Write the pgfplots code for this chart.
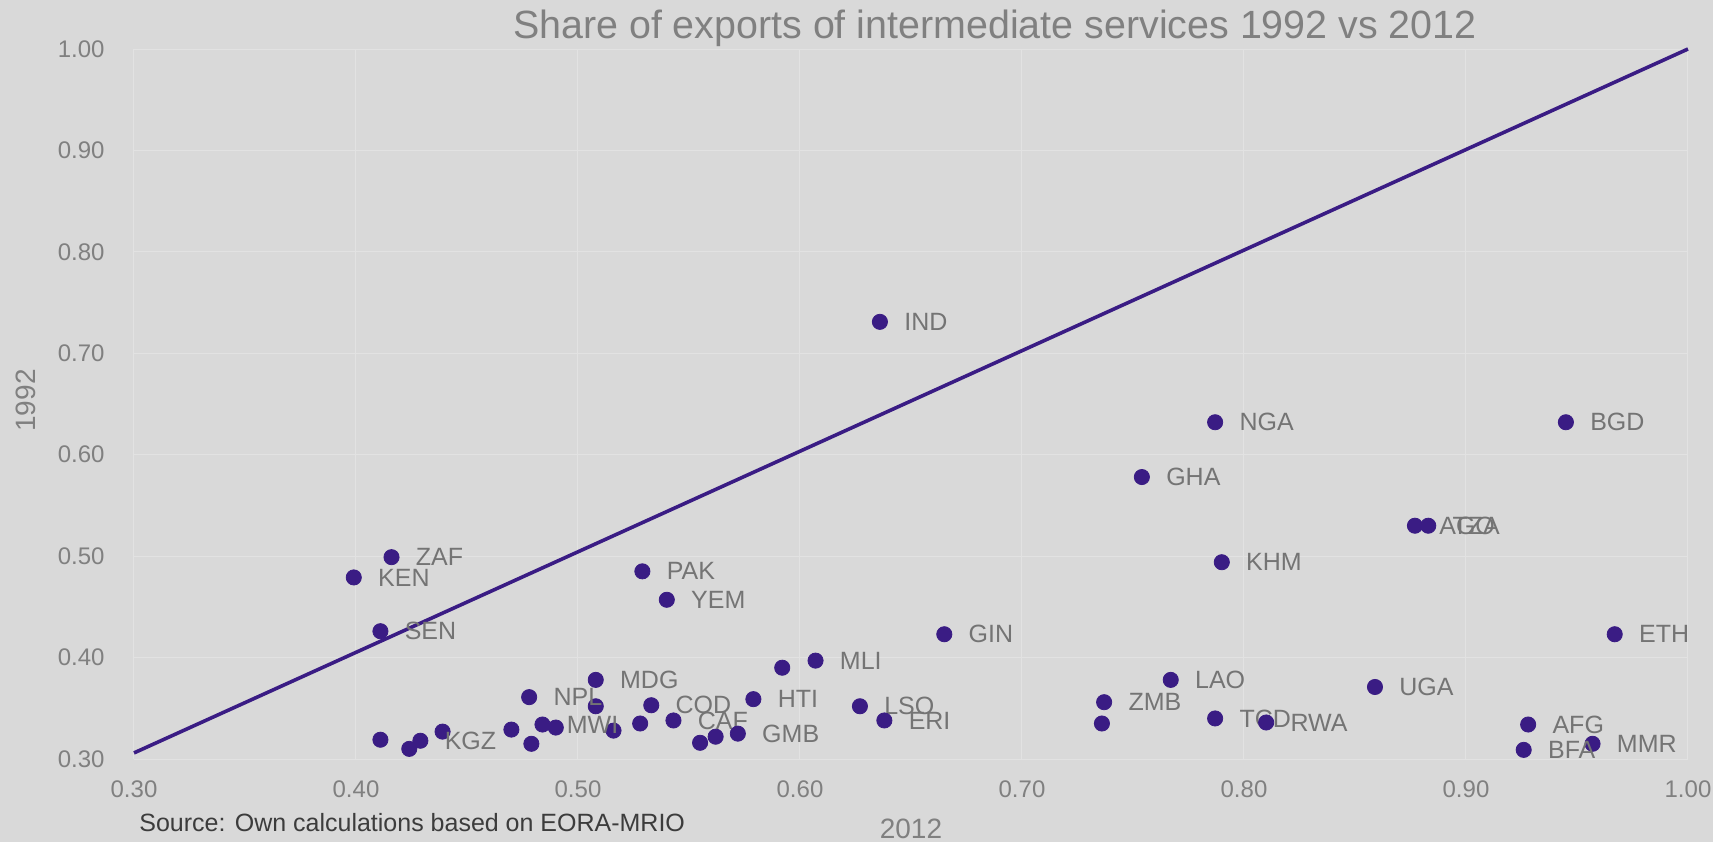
\documentclass[border=0pt]{standalone}
\usepackage{pgfplots}
\pgfplotsset{compat=1.18}
\usepackage{pgfplotstable}
\usepackage{fontspec}
\setmainfont{Liberation Sans}
\definecolor{bg}{HTML}{D9D9D9}
\definecolor{gridc}{HTML}{E2E2E2}
\definecolor{dotc}{HTML}{3A1C84}
\definecolor{txt}{HTML}{808080}
\definecolor{lbl}{HTML}{747474}
\definecolor{src}{HTML}{3C3C3C}

\pgfplotstableread{
x y label
0.416 0.499 ZAF
0.399 0.479 KEN
0.411 0.426 SEN
0.478 0.361 NPL
0.508 0.378 MDG
0.484 0.334 MWI
0.429 0.318 KGZ
0.533 0.353 COD
0.543 0.338 CAF
0.572 0.325 GMB
0.579 0.359 HTI
0.607 0.397 MLI
0.627 0.352 LSO
0.638 0.338 ERI
0.665 0.423 GIN
0.529 0.485 PAK
0.540 0.457 YEM
0.636 0.731 IND
0.787 0.632 NGA
0.945 0.632 BGD
0.754 0.578 GHA
0.877 0.530 AGO
0.883 0.530 TZA
0.790 0.494 KHM
0.967 0.423 ETH
0.767 0.378 LAO
0.737 0.356 ZMB
0.859 0.371 UGA
0.787 0.340 TCD
0.810 0.336 RWA
0.928 0.334 AFG
0.957 0.315 MMR
0.926 0.309 BFA
}\labeled

\pgfplotstableread{
x y
0.508 0.352
0.470 0.329
0.479 0.315
0.490 0.331
0.439 0.327
0.411 0.319
0.424 0.310
0.516 0.328
0.528 0.335
0.555 0.316
0.562 0.322
0.592 0.390
0.736 0.335
}\unlabeled

\begin{document}
\begin{tikzpicture}
\fill[bg] (-67pt,-41.5pt) rectangle (789.5pt,379.5pt);
\begin{axis}[
  at={(0,0)}, anchor=south west,
  scale only axis, width=777pt, height=355pt,
  xmin=0.3, xmax=1, ymin=0.3, ymax=1,
  xtick={0.3,0.4,0.5,0.6,0.7,0.8,0.9,1.0},
  ytick={0.3,0.4,0.5,0.6,0.7,0.8,0.9,1.0},
  xticklabels={0.30,0.40,0.50,0.60,0.70,0.80,0.90,1.00},
  yticklabels={0.30,0.40,0.50,0.60,0.70,0.80,0.90,1.00},
  grid=major,
  major grid style={draw=gridc, line width=0.5pt},
  axis line style={draw=none},
  tick style={draw=none},
  xticklabel style={anchor=north, inner sep=0pt, yshift=-10.5pt, font=\fontsize{12}{12}\selectfont, text=txt},
  yticklabel style={anchor=east, inner sep=0pt, xshift=-14.5pt, font=\fontsize{12}{12}\selectfont, text=txt},
  xlabel={2012},
  xlabel style={at={(rel axis cs:0.5,0)}, anchor=base, yshift=-39.5pt, inner sep=0pt, font=\fontsize{14}{14}\selectfont, text=txt},
  ylabel={1992},
  ylabel style={at={(rel axis cs:-0.0695,0.505)}, anchor=center, inner sep=0pt, font=\fontsize{14}{14}\selectfont, text=txt},
  title={Share of exports of intermediate services 1992 vs 2012},
  every axis title/.style={at={(rel axis cs:0.554,1)}, anchor=base, yshift=5.25pt, inner sep=0pt, font=\fontsize{19.7}{19.7}\selectfont, text=txt},
  clip=false,
]
\addplot[dotc, line width=1.8pt] coordinates {(0.3,0.306) (1,1)};
\addplot[only marks, mark=*, mark size=3.8pt, mark options={draw=dotc, fill=dotc}]
  table[x=x, y=y] {\unlabeled};
\addplot[only marks, mark=*, mark size=3.8pt, mark options={draw=dotc, fill=dotc},
  nodes near coords, point meta=explicit symbolic,
  nodes near coords style={anchor=west, inner sep=0pt, xshift=12pt, font=\fontsize{12.5}{12.5}\selectfont, text=lbl}]
  table[x=x, y=y, meta=label] {\labeled};
\end{axis}
\node[anchor=base west, inner sep=0pt, font=\fontsize{12.5}{12.5}\selectfont, text=src] at (2.5pt,-36.35pt) {Source: Own calculations based on EORA-MRIO};
\pgfresetboundingbox
\path (-67pt,-41.5pt) rectangle (789.5pt,379.5pt);
\end{tikzpicture}
\end{document}
